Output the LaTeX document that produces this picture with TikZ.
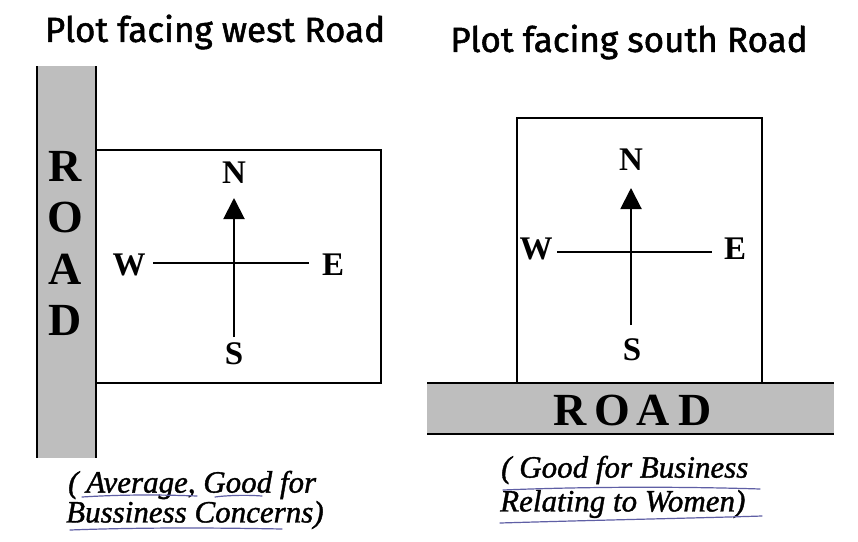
\documentclass[tikz,border=0pt]{standalone}
\usepackage{fontspec}
\setmainfont{Liberation Serif}
\newfontfamily\titlefont[FakeBold=1.5]{Fira Sans}
\newfontfamily\capfont[FakeBold=1.2]{Liberation Serif}
\usetikzlibrary{arrows.meta}
\definecolor{roadgray}{RGB}{190,190,190}
\definecolor{penblue}{RGB}{95,95,165}
\tikzset{
  px/.style={x=1pt,y=-1pt},
  plotline/.style={line width=2pt},
  roadedge/.style={line width=2.4pt},
  compassline/.style={line width=2pt},
  northarrow/.style={line width=2pt,-{Triangle[width=21pt,length=21pt]}},
  dirlabel/.style={font=\fontsize{33}{34}\selectfont\bfseries,inner sep=0pt},
  roadletter/.style={font=\fontsize{46}{47}\selectfont\bfseries,inner sep=0pt},
  titletext/.style={font=\titlefont\fontsize{35}{37}\selectfont,inner sep=0pt},
  captiontext/.style={font=\capfont\fontsize{31}{33}\selectfont\itshape,inner sep=0pt,anchor=west},
  penline/.style={penblue,line width=1.2pt,line cap=round}
}
\begin{document}
\begin{tikzpicture}[px]
\useasboundingbox (0,0) rectangle (858,541);
\fill[white] (0,0) rectangle (858,541);

% ---------- titles
\node[titletext] (t1) at (215,32) {Plot facing west Road};
\node[titletext] (t2) at (629,42) {Plot facing south Road};

% ---------- left: west road
\fill[roadgray] (37,66) rectangle (96,458);
\draw[roadedge] (37,66) -- (37,458);
\draw[roadedge] (96,66) -- (96,458);
\node[roadletter] (lR) at (65,166) {R};
\node[roadletter] (lO) at (65,217) {O};
\node[roadletter] (lA) at (65,269) {A};
\node[roadletter] (lD) at (65,320) {D};

\draw[plotline] (96,150) -- (381,150) -- (381,383) -- (96,383);

\coordinate (lWe) at (153,263);
\coordinate (lEe) at (309,263);
\coordinate (lSe) at (234,337);
\coordinate (lNe) at (234,198);
\draw[compassline] (lWe) -- (lEe);
\draw[northarrow] (lSe) -- (lNe);
\node[dirlabel] (lN) at (234,173) {N};
\node[dirlabel] (lS) at (234,354) {S};
\node[dirlabel] (lW) at (129,265) {W};
\node[dirlabel] (lE) at (333,265) {E};

% ---------- right: south road
\fill[roadgray] (427,383) rectangle (834,434);
\draw[roadedge] (427,383) -- (834,383);
\draw[roadedge] (427,434) -- (834,434);
\draw[plotline] (517,383) -- (517,118) -- (762,118) -- (762,383);
\node[roadletter] (rR) at (570,410) {R};
\node[roadletter] (rO) at (612,410) {O};
\node[roadletter] (rA) at (653,410) {A};
\node[roadletter] (rD) at (695,410) {D};

\coordinate (rWe) at (557,252);
\coordinate (rEe) at (712,252);
\coordinate (rSe) at (631,325);
\coordinate (rNe) at (631,188);
\draw[compassline] (rWe) -- (rEe);
\draw[northarrow] (rSe) -- (rNe);
\node[dirlabel] (rN) at (631,160) {N};
\node[dirlabel] (rS) at (632,350) {S};
\node[dirlabel] (rW) at (536,249) {W};
\node[dirlabel] (rE) at (735,249) {E};

% ---------- captions
\node[captiontext] (c1a) at (68,485) {( Average, Good for};
\node[captiontext] (c1b) at (66,515) {Bussiness Concerns)};
\node[captiontext] (c2a) at (501,470) {( Good for Business};
\node[captiontext] (c2b) at (500,504) {Relating to Women)};

% ---------- pen underlines
\draw[penline] (82,497) .. controls (130,494) and (170,495) .. (197,496);
\draw[penline] (215,497) .. controls (230,495) and (250,495) .. (262,496);
\draw[penline] (70,530) .. controls (150,527) and (230,528) .. (282,529);
\draw[penline] (503,490) .. controls (600,486) and (700,487) .. (760,489);
\draw[penline] (500,523) .. controls (600,520) and (700,518) .. (762,516);
\end{tikzpicture}
\end{document}
